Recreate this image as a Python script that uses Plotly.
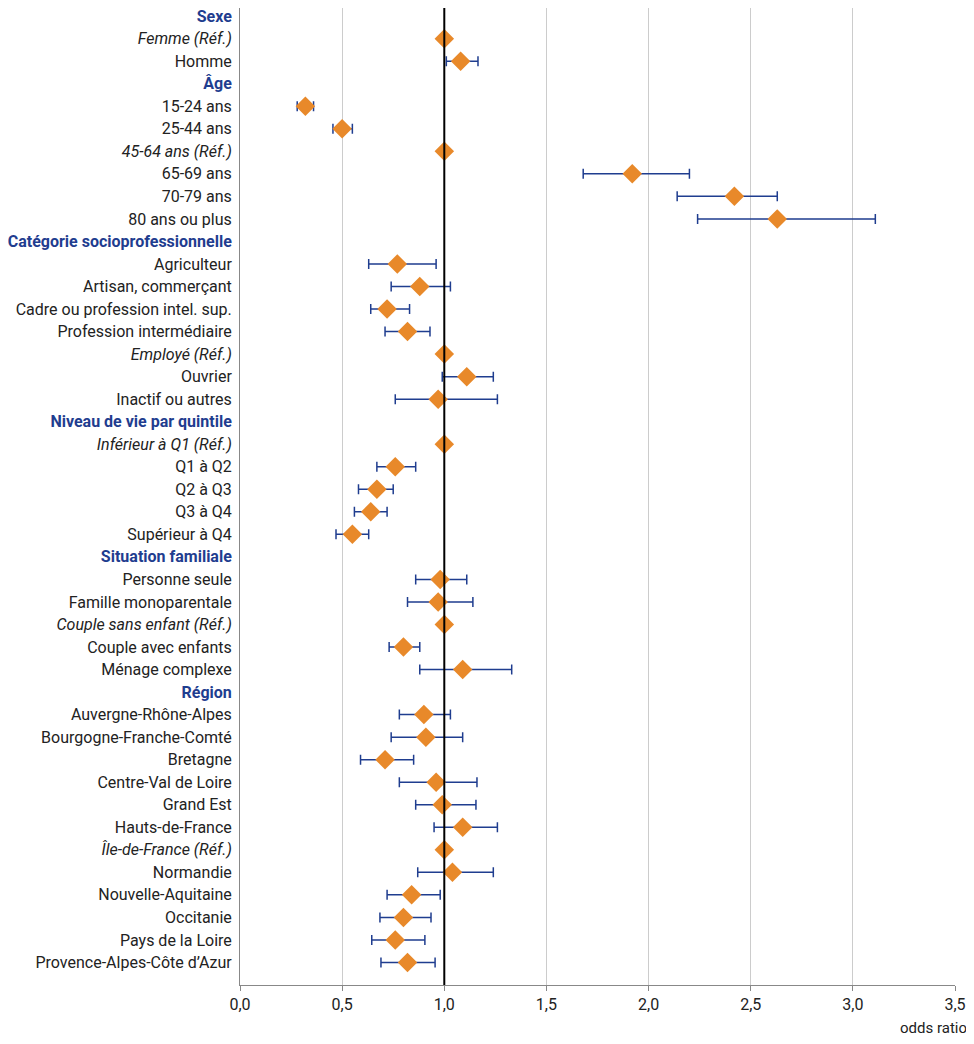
import plotly.graph_objects as go

labels = [
    "H:Sexe", "R:Femme (Réf.)", "Homme",
    "H:Âge", "15-24 ans", "25-44 ans", "R:45-64 ans (Réf.)", "65-69 ans", "70-79 ans", "80 ans ou plus",
    "H:Catégorie socioprofessionnelle", "Agriculteur", "Artisan, commerçant", "Cadre ou profession intel. sup.",
    "Profession intermédiaire", "R:Employé (Réf.)", "Ouvrier", "Inactif ou autres",
    "H:Niveau de vie par quintile", "R:Inférieur à Q1 (Réf.)", "Q1 à Q2", "Q2 à Q3", "Q3 à Q4", "Supérieur à Q4",
    "H:Situation familiale", "Personne seule", "Famille monoparentale", "R:Couple sans enfant (Réf.)",
    "Couple avec enfants", "Ménage complexe",
    "H:Région", "Auvergne-Rhône-Alpes", "Bourgogne-Franche-Comté", "Bretagne", "Centre-Val de Loire",
    "Grand Est", "Hauts-de-France", "R:Île-de-France (Réf.)", "Normandie", "Nouvelle-Aquitaine",
    "Occitanie", "Pays de la Loire", "Provence-Alpes-Côte d’Azur",
]
odds = [None, 1.0, 1.08,
        None, 0.32, 0.50, 1.0, 1.92, 2.42, 2.63,
        None, 0.77, 0.88, 0.72, 0.82, 1.0, 1.11, 0.97,
        None, 1.0, 0.76, 0.67, 0.64, 0.55,
        None, 0.98, 0.97, 1.0, 0.80, 1.09,
        None, 0.90, 0.91, 0.71, 0.96, 0.99, 1.09, 1.0, 1.04, 0.84, 0.80, 0.76, 0.82]
low = [None, None, 1.01,
       None, 0.28, 0.455, None, 1.68, 2.14, 2.24,
       None, 0.63, 0.74, 0.64, 0.71, None, 0.99, 0.76,
       None, None, 0.67, 0.58, 0.56, 0.47,
       None, 0.86, 0.82, None, 0.73, 0.88,
       None, 0.78, 0.74, 0.59, 0.78, 0.86, 0.95, None, 0.87, 0.72, 0.685, 0.645, 0.69]
high = [None, None, 1.165,
        None, 0.36, 0.55, None, 2.20, 2.63, 3.11,
        None, 0.96, 1.03, 0.83, 0.93, None, 1.24, 1.26,
        None, None, 0.86, 0.75, 0.72, 0.63,
        None, 1.11, 1.14, None, 0.88, 1.33,
        None, 1.03, 1.09, 0.85, 1.16, 1.155, 1.26, None, 1.24, 0.98, 0.935, 0.905, 0.955]

BLUE = "#1f3d8f"
ORANGE = "#e8892a"

ticktext = []
for lab in labels:
    if lab.startswith("H:"):
        ticktext.append(f"<b><span style='color:{BLUE}'>{lab[2:]}</span></b>")
    elif lab.startswith("R:"):
        ticktext.append(f"<i>{lab[2:]}</i>")
    else:
        ticktext.append(lab)

ys = list(range(len(labels)))
pts = [(y, o, l, h) for y, o, l, h in zip(ys, odds, low, high) if o is not None]
ci = [p for p in pts if p[2] is not None]

fig = go.Figure()
# error bars (only where CI exists)
fig.add_trace(go.Scatter(
    x=[p[1] for p in ci], y=[p[0] for p in ci],
    mode="markers", marker=dict(size=1, color="rgba(0,0,0,0)"),
    error_x=dict(type="data", symmetric=False,
                 array=[p[3] - p[1] for p in ci],
                 arrayminus=[p[1] - p[2] for p in ci],
                 color=BLUE, thickness=1.5, width=5),
    hoverinfo="skip", showlegend=False))
fig.add_shape(type="line", x0=1, x1=1, y0=0, y1=1, yref="paper",
              line=dict(color="black", width=2), layer="above")
fig.add_trace(go.Scatter(
    x=[p[1] for p in pts], y=[p[0] for p in pts], mode="markers",
    marker=dict(symbol="diamond", size=15, color=ORANGE), showlegend=False))

fig.update_layout(
    width=966, height=1036,
    margin=dict(l=232, r=19, t=0, b=59, autoexpand=False),
    plot_bgcolor="white", paper_bgcolor="white",
    font=dict(family="Roboto, sans-serif", size=16, color="#222"),
    xaxis=dict(range=[0, 3.5], dtick=0.5, tickformat=".1f",
               showgrid=True, gridcolor="#cccccc", gridwidth=1, zeroline=False,
               showline=True, linecolor="#888", ticks="outside", ticklen=5, tickcolor="#888"),
    yaxis=dict(range=[43, -0.36], tickmode="array", tickvals=ys, ticktext=ticktext,
               showgrid=False, zeroline=False, showline=True, linecolor="#888",
               ticks="", ticklabelstandoff=4, ticklabeloverflow="allow"),
    separators=", ",
    annotations=[dict(text="odds ratio", x=1.02, xref="paper", xanchor="right",
                      y=-0.033, yref="paper", yanchor="top", showarrow=False,
                      font=dict(size=15))],
)
fig.write_html("out.html")
